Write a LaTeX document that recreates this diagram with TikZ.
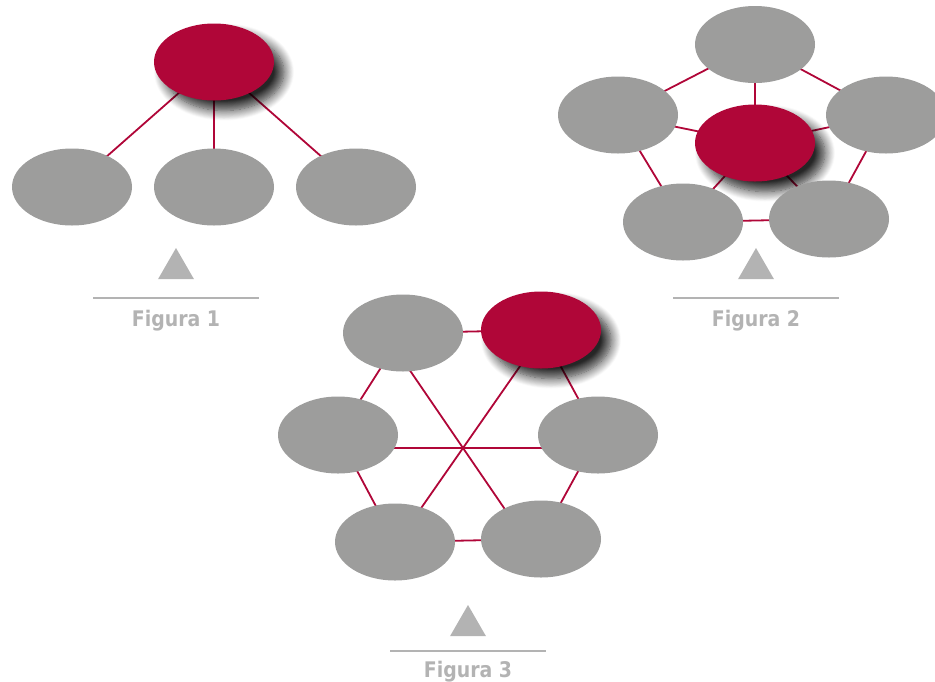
\documentclass[tikz,border=0pt]{standalone}
\usepackage{fontspec}
\newfontfamily\capfont{DejaVu Sans}[FakeStretch=0.88]
\usetikzlibrary{shapes.geometric,shadows.blur}
\definecolor{nodered}{RGB}{176,6,56}
\definecolor{nodegray}{RGB}{157,157,156}
\definecolor{capgray}{RGB}{179,179,179}
\tikzset{
  gnode/.style={ellipse, fill=nodegray, minimum width=120pt, minimum height=77pt, inner sep=0pt, outer sep=0pt},
  rnode/.style={gnode, fill=nodered, blur shadow={shadow xshift=10pt, shadow yshift=-10pt, shadow blur radius=10pt, shadow blur steps=12, shadow opacity=85}},
  link/.style={draw=nodered, line width=1.8pt},
  tri/.style={regular polygon, regular polygon sides=3, minimum size=41.6pt, inner sep=0pt, fill=capgray},
  rule/.style={draw=capgray, line width=2.5pt},
  caption/.style={anchor=base, text=capgray, inner sep=0pt, font=\fontsize{21.5pt}{24pt}\selectfont\capfont\bfseries}
}
\begin{document}
\begin{tikzpicture}[x=1pt,y=-1pt]
\clip (0,0) rectangle (935,681);
\useasboundingbox (0,0) rectangle (935,681);

% ---------- Figura 1 ----------
\coordinate (a0) at (214,62);
\coordinate (a1) at (72,187);
\coordinate (a2) at (214,187);
\coordinate (a3) at (356,187);
\draw[link] (a0) -- (a1);
\draw[link] (a0) -- (a2);
\draw[link] (a0) -- (a3);
\node[rnode] (A0) at (a0) {};
\node[gnode] (A1) at (a1) {};
\node[gnode] (A2) at (a2) {};
\node[gnode] (A3) at (a3) {};
\node[tri] (t1) at (176,268.8) {};
\coordinate (r1a) at (93,298);
\coordinate (r1b) at (259,298);
\draw[rule] (r1a) -- (r1b);
\node[caption] (c1) at (176,326) {Figura 1};

% ---------- Figura 2 ----------
\coordinate (b0) at (755,143);
\coordinate (b1) at (755,44.5);
\coordinate (b2) at (618,115);
\coordinate (b3) at (886,115);
\coordinate (b4) at (683,222);
\coordinate (b5) at (829,219);
\foreach \n in {b1,b2,b3,b4,b5} \draw[link] (b0) -- (\n);
\draw[link] (b1) -- (b2);
\draw[link] (b1) -- (b3);
\draw[link] (b2) -- (b4);
\draw[link] (b3) -- (b5);
\draw[link] (b4) -- (b5);
\node[rnode] (B0) at (b0) {};
\node[gnode] (B1) at (b1) {};
\node[gnode] (B2) at (b2) {};
\node[gnode] (B3) at (b3) {};
\node[gnode] (B4) at (b4) {};
\node[gnode] (B5) at (b5) {};
\node[tri] (t2) at (756,268.8) {};
\coordinate (r2a) at (673,298);
\coordinate (r2b) at (839,298);
\draw[rule] (r2a) -- (r2b);
\node[caption] (c2) at (756,326) {Figura 2};

% ---------- Figura 3 ----------
\coordinate (h1) at (403,333);
\coordinate (h2) at (541,330);
\coordinate (h3) at (598,435);
\coordinate (h4) at (541,539);
\coordinate (h5) at (395,542);
\coordinate (h6) at (338,435);
\coordinate (hc) at (463,448);
\coordinate (d1) at (398,353);
\coordinate (d4) at (528,543);
\coordinate (d2) at (532,349);
\coordinate (d5) at (394,547);
\coordinate (d6) at (340,448);
\coordinate (d3) at (590,448);
\draw[link] (h1) -- (h2) -- (h3) -- (h4) -- (h5) -- (h6) -- cycle;
\draw[link] (d1) -- (hc) -- (d4);
\draw[link] (d2) -- (hc) -- (d5);
\draw[link] (d6) -- (hc) -- (d3);
\node[rnode] (H2) at (h2) {};
\node[gnode] (H1) at (h1) {};
\node[gnode] (H3) at (h3) {};
\node[gnode] (H4) at (h4) {};
\node[gnode] (H5) at (h5) {};
\node[gnode] (H6) at (h6) {};
\node[tri] (t3) at (468,625.8) {};
\coordinate (r3a) at (390,651);
\coordinate (r3b) at (546,651);
\draw[rule] (r3a) -- (r3b);
\node[caption] (c3) at (468,677) {Figura 3};
\end{tikzpicture}
\end{document}
